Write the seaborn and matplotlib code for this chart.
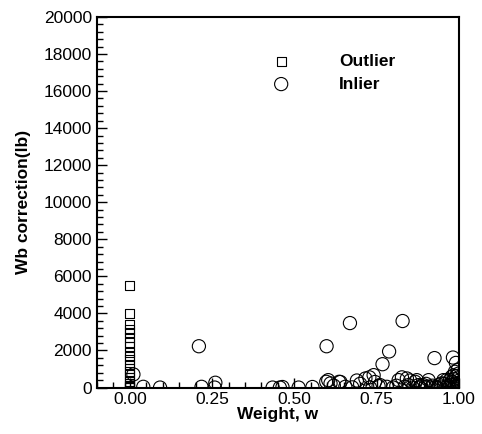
import matplotlib
matplotlib.use("Agg")
import matplotlib.pyplot as plt
import seaborn as sns
import numpy as np
import pandas as pd
from matplotlib.ticker import MultipleLocator, FormatStrFormatter

# Outliers (all at weight 0)
outlier_w = [0.0] * 22
outlier_v = [5500, 4000, 3400, 3150, 2950, 2700, 2450, 2200, 1900, 1700, 1500,
             1250, 1050, 880, 700, 520, 350, 200, 100, 50, 20, 0]

# Inliers
inlier_w = [0.011, 0.041, 0.092, 0.21, 0.218, 0.26, 0.258, 0.434, 0.456, 0.464,
            0.513, 0.555, 0.598, 0.597, 0.603, 0.61, 0.636, 0.64, 0.655, 0.669,
            0.676, 0.69, 0.716, 0.728, 0.741, 0.756, 0.761, 0.768, 0.781, 0.788,
            0.817, 0.827, 0.829, 0.842, 0.847, 0.852, 0.867, 0.872, 0.877, 0.892,
            0.897, 0.908, 0.926, 0.928, 0.948, 0.953, 0.963, 0.973, 0.978, 0.982,
            0.988, 0.991, 0.996, 0.97, 0.975, 0.98, 0.985, 0.99, 0.995, 1.0,
            0.998, 0.993, 0.987, 0.965, 0.96, 0.955, 0.945, 0.94, 0.935, 0.92,
            0.915, 0.905, 0.9, 0.885, 0.88, 0.86, 0.835, 0.81, 0.80, 0.745,
            0.73, 0.70, 0.62, 0.999, 0.997, 0.994, 0.984]
inlier_v = [710, 40, 0, 2230, 40, 260, 0, 0, 0, 30,
            0, 30, 2230, 310, 400, 225, 310, 300, 40, 3480,
            10, 380, 490, 550, 670, 80, 130, 1260, 40, 1950,
            400, 550, 3590, 490, 130, 380, 310, 400, 130, 130,
            20, 400, 1590, 20, 225, 400, 400, 400, 580, 1620,
            850, 1330, 940, 0, 150, 300, 450, 600, 100, 250,
            500, 0, 200, 100, 0, 200, 50, 150, 0, 100,
            0, 50, 200, 100, 0, 0, 40, 100, 0, 300,
            0, 200, 100, 750, 350, 50, 650]

df_out = pd.DataFrame({"w": outlier_w, "v": outlier_v})
df_in = pd.DataFrame({"w": inlier_w, "v": inlier_v})

sns.set_theme(style="white")
plt.rcParams["font.family"] = ["Liberation Sans", "DejaVu Sans"]
plt.rcParams["text.color"] = "black"
plt.rcParams["axes.labelcolor"] = "black"
plt.rcParams["xtick.color"] = "black"
plt.rcParams["ytick.color"] = "black"

fig = plt.figure(figsize=(4.82, 4.34), dpi=100)
ax = fig.add_axes([0.201, 0.107, 0.751, 0.854])

sns.scatterplot(data=df_out, x="w", y="v", marker="s", s=42, facecolor="none",
                edgecolor="black", linewidth=0.8, label="Outlier", ax=ax, zorder=3)
sns.scatterplot(data=df_in, x="w", y="v", marker="o", s=90, facecolor="none",
                edgecolor="black", linewidth=0.8, label="Inlier", ax=ax, zorder=3)

ax.set_xlim(-0.1, 1.0)
ax.set_ylim(0, 20000)
ax.xaxis.set_major_locator(MultipleLocator(0.25))
ax.xaxis.set_minor_locator(MultipleLocator(0.05))
ax.xaxis.set_major_formatter(FormatStrFormatter("%.2f"))
ax.yaxis.set_major_locator(MultipleLocator(2000))
ax.yaxis.set_minor_locator(MultipleLocator(400))

ax.tick_params(which="both", direction="in", top=False, right=False,
               bottom=True, left=True, colors="black", labelcolor="black",
               labelsize=12.5, width=1)
ax.tick_params(which="major", length=7)
ax.tick_params(which="minor", length=4.5)
for sp in ax.spines.values():
    sp.set_visible(True)
    sp.set_color("black")
    sp.set_linewidth(1.5)

ax.set_xlabel("Weight, w", fontsize=12.5, fontweight="bold", labelpad=0,
              color="black")
ax.set_ylabel("Wb correction(lb)", fontsize=12.5, fontweight="bold", labelpad=9,
              color="black")

leg = ax.legend(loc="upper left", bbox_to_anchor=(0.442, 0.92), frameon=False,
                handletextpad=2.35, prop={"weight": "bold", "size": 12.5},
                labelspacing=0.45, borderaxespad=0)
for t in leg.get_texts():
    t.set_color("black")

fig.savefig("out.png", dpi=100)
